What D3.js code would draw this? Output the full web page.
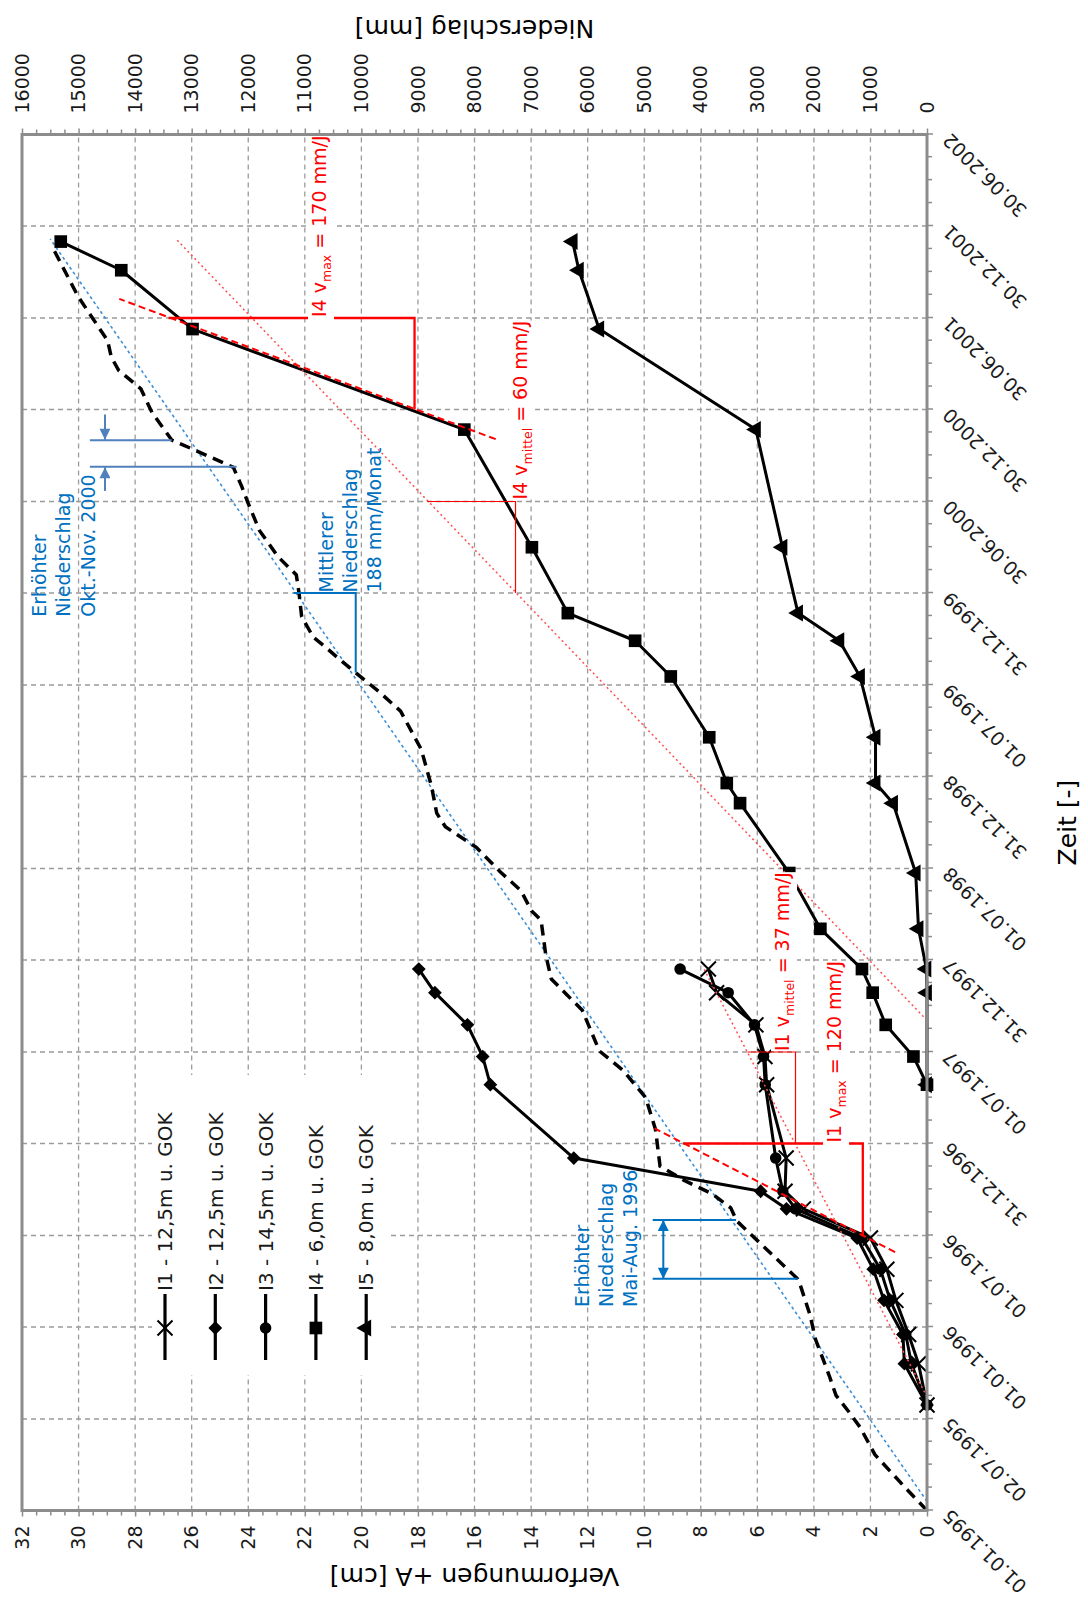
<!DOCTYPE html>
<html>
<head>
<meta charset="utf-8">
<script src="https://cdn.jsdelivr.net/npm/d3@7"></script>
<style>
  body { margin: 0; background: #fff; }
  svg text { font-family: "DejaVu Sans", Verdana, sans-serif; }
</style>
</head>
<body>
<svg id="chart"></svg>
<script>
const width = 1088;
const height = 1598;
const svg = d3.select("svg#chart");
svg.attr("width", width).attr("height", height);

// the chart is built in landscape and then turned by -90 degrees
const W = height;
const H = width;
const margin = { top: 22, right: 134.5, bottom: 161, left: 87.5 };

// axis ticks
const timeTickLabels = ["01.01.1995", "02.07.1995", "01.01.1996", "01.07.1996", "31.12.1996",
  "01.07.1997", "31.12.1997", "01.07.1998", "31.12.1998", "01.07.1999", "31.12.1999",
  "30.06.2000", "30.12.2000", "30.06.2001", "30.12.2001", "30.06.2002"];
const deformTicks = [0, 2, 4, 6, 8, 10, 12, 14, 16, 18, 20, 22, 24, 26, 28, 30, 32];
const rainTicks = [0, 1000, 2000, 3000, 4000, 5000, 6000, 7000, 8000, 9000, 10000,
  11000, 12000, 13000, 14000, 15000, 16000];

// inclinometer readings [date, cm]
const seriesI1 = [["1995-07-30", 0], ["1995-10-20", 0.3], ["1995-12-17", 0.65], ["1996-02-23", 1.1],
  ["1996-04-25", 1.42], ["1996-06-26", 2.0], ["1996-08-23", 4.37], ["1996-09-27", 5.02],
  ["1996-12-02", 4.98], ["1997-04-27", 5.67], ["1997-06-22", 5.73], ["1997-08-24", 6.05],
  ["1997-10-27", 7.44], ["1997-12-13", 7.73]];
const seriesI2 = [["1995-07-30", 0], ["1995-10-20", 0.8], ["1995-12-17", 0.85], ["1996-02-23", 1.52],
  ["1996-04-25", 1.9], ["1996-06-26", 2.47], ["1996-08-23", 4.97], ["1996-09-27", 5.88],
  ["1996-12-02", 12.49], ["1997-04-27", 15.44], ["1997-06-22", 15.71], ["1997-08-24", 16.25],
  ["1997-10-27", 17.4], ["1997-12-13", 17.97]];
const seriesI3 = [["1995-07-30", 0], ["1995-10-20", 0.55], ["1995-12-17", 0.75], ["1996-02-23", 1.3],
  ["1996-04-25", 1.65], ["1996-06-26", 2.3], ["1996-08-23", 4.65], ["1996-09-27", 5.1],
  ["1996-12-02", 5.35], ["1997-04-27", 5.72], ["1997-06-22", 5.78], ["1997-08-24", 6.1],
  ["1997-10-27", 7.03], ["1997-12-13", 8.73]];
const seriesI4 = [["1997-04-27", 0], ["1997-06-22", 0.48], ["1997-08-24", 1.46], ["1997-10-27", 1.92],
  ["1997-12-13", 2.3], ["1998-03-03", 3.77], ["1998-06-22", 4.87], ["1998-11-08", 6.61],
  ["1998-12-18", 7.08], ["1999-03-19", 7.7], ["1999-07-18", 9.06], ["1999-09-27", 10.32],
  ["1999-11-21", 12.7], ["2000-03-31", 13.97], ["2000-11-20", 16.36], ["2001-06-08", 25.97],
  ["2001-10-03", 28.49], ["2001-11-29", 30.63]];
const seriesI5 = [["1997-04-27", 0], ["1997-10-27", 0], ["1997-12-13", 0.02], ["1998-03-03", 0.3],
  ["1998-06-22", 0.4], ["1998-11-08", 1.2], ["1998-12-18", 1.82], ["1999-03-19", 1.82],
  ["1999-07-18", 2.37], ["1999-09-27", 3.1], ["1999-11-21", 4.56], ["2000-03-31", 5.11],
  ["2000-11-20", 6.05], ["2001-06-08", 11.59], ["2001-10-03", 12.31], ["2001-11-29", 12.53]];
const seriesNames = ["I1 - 12,5m u. GOK", "I2 - 12,5m u. GOK", "I3 - 14,5m u. GOK",
  "I4 - 6,0m u. GOK", "I5 - 8,0m u. GOK"];
const seriesMarkers = ["x", "diamond", "circle", "square", "triangle"];

// cumulative precipitation [date, mm]
const rainData = [["1995-01-01", 0], ["1995-02-15", 380], ["1995-04-22", 920], ["1995-06-16", 1185],
  ["1995-07-19", 1400], ["1995-08-18", 1609], ["1995-09-27", 1731], ["1995-12-08", 1973],
  ["1996-01-24", 2065], ["1996-03-26", 2245], ["1996-04-06", 2290], ["1996-07-30", 3364],
  ["1996-08-25", 3470], ["1996-09-22", 3800], ["1996-10-19", 4300], ["1996-11-16", 4720],
  ["1997-01-28", 4800], ["1997-04-01", 4973], ["1997-05-25", 5368], ["1997-07-03", 5792],
  ["1997-09-22", 6094], ["1997-10-23", 6368], ["1997-11-23", 6641], ["1998-01-10", 6740],
  ["1998-03-20", 6823], ["1998-04-08", 6994], ["1998-05-18", 7178], ["1998-06-24", 7542],
  ["1998-08-12", 7968], ["1998-09-22", 8515], ["1998-10-19", 8668], ["1998-12-11", 8759],
  ["1999-02-23", 8941], ["1999-05-10", 9307], ["1999-06-16", 9671], ["1999-08-20", 10378],
  ["1999-09-14", 10631], ["1999-10-04", 10850], ["1999-11-14", 11056], ["1999-12-29", 11100],
  ["2000-02-05", 11150], ["2000-03-13", 11480], ["2000-05-03", 11800], ["2000-06-26", 12000],
  ["2000-07-30", 12116], ["2000-09-06", 12264], ["2000-10-12", 12980], ["2000-10-30", 13350],
  ["2000-12-24", 13702], ["2001-02-09", 13898], ["2001-03-18", 14291], ["2001-04-13", 14421],
  ["2001-05-16", 14487], ["2001-08-12", 15009], ["2001-11-19", 15467]];
const rainMean = [["1995-01-19", 0], ["2001-12-04", 15500]];

// red speed constructions [date, cm]
const i1MaxTangent = [["1996-05-29", 1.13], ["1997-01-30", 9.63]];
const i1MaxTriangle = [["1996-07-01", 2.27], ["1996-12-31", 2.27], ["1996-12-31", 8.62]];
const i1MeanLine = [["1995-08-15", 0], ["1997-12-18", 7.93]];
const i1MeanTriangle = [["1996-12-31", 4.65], ["1997-07-01", 4.65], ["1997-07-01", 6.35]];
const i4MaxTangent = [["2000-11-01", 15.25], ["2001-08-07", 28.56]];
const i4MaxTriangle = [["2000-12-30", 18.12], ["2001-06-30", 18.12], ["2001-06-30", 26.82]];
const i4MeanLine = [["1997-09-02", 0], ["2001-12-04", 26.55]];
const i4MeanTriangle = [["1999-12-31", 14.55], ["2000-06-30", 14.55], ["2000-06-30", 17.67]];

// blue precipitation constructions [date, mm]
const rainMeanTriangle = [["1999-12-31", 11200], ["1999-12-31", 10100], ["1999-07-26", 10100]];
const rain1996Lines = [[["1996-08-01", 4850], ["1996-08-01", 3375]], [["1996-04-06", 4850], ["1996-04-06", 2284]]];
const rain1996Arrow = [["1996-04-06", 4662], ["1996-08-01", 4662]];
const rain2000Lines = [[["2000-10-30", 14800], ["2000-10-30", 13354]], [["2000-09-07", 14800], ["2000-09-07", 12205]]];
const rain2000Arrows = [[["2000-12-20", 14533], ["2000-10-31", 14533]], [["2000-07-21", 14533], ["2000-09-06", 14533]]];

// texts and anchor points
const speedLabels = [
  { name: "I1", sub: "max", rest: " = 120 mm/J", at: ["1996-12-31", 3.04], pad: 4 },
  { name: "I1", sub: "mittel", rest: " = 37 mm/J", at: ["1997-07-01", 4.88], pad: 0 },
  { name: "I4", sub: "max", rest: " = 170 mm/J", at: ["2001-06-30", 21.25], pad: 4 },
  { name: "I4", sub: "mittel", rest: " = 60 mm/J", at: ["2000-07-02", 14.14], pad: 0 }
];
const rainLabels = [
  { lines: ["Mittlerer", "Niederschlag", "188 mm/Monat"], at: ["2000-01-01", 10500] },
  { lines: ["Erhöhter", "Niederschlag", "Okt.-Nov. 2000"], at: ["1999-11-14", 15570] },
  { lines: ["Erhöhter", "Niederschlag", "Mai-Aug. 1996"], at: ["1996-02-10", 5976] }
];

const parseDate = d3.timeParse("%Y-%m-%d");
const parseTick = d3.timeParse("%d.%m.%Y");
const timeTicks = timeTickLabels.map(parseTick);

svg.append("rect").attr("width", width).attr("height", height).attr("fill", "white");

const defs = svg.append("defs");
function arrowDef(id, color) {
  defs.append("marker")
    .attr("id", id)
    .attr("viewBox", "0 0 10 10")
    .attr("refX", 10).attr("refY", 5)
    .attr("markerUnits", "userSpaceOnUse")
    .attr("markerWidth", 12).attr("markerHeight", 11)
    .attr("orient", "auto-start-reverse")
    .append("path").attr("d", "M0,0 L10,5 L0,10 z").attr("fill", color);
}
arrowDef("arrowBlue", "#0070c0");
arrowDef("arrowSteel", "#4f81bd");

const g = svg.append("g").attr("transform", "translate(0," + height + ") rotate(-90)");

const x = d3.scaleTime()
  .domain([timeTicks[0], timeTicks[timeTicks.length - 1]])
  .range([margin.left, W - margin.right]);
const y = d3.scaleLinear().domain([0, 32]).range([H - margin.bottom, margin.top]);
const yRain = d3.scaleLinear().domain([0, 16000]).range([H - margin.bottom, margin.top]);

// gridlines
let grid = g.append("g").attr("id", "grid")
  .attr("stroke", "#9b9b9b").attr("stroke-width", 1.3).attr("stroke-dasharray", "5,4");
grid.selectAll("line.gt").data(timeTicks.slice(1, -1)).join("line").attr("class", "gt")
  .attr("x1", d => x(d)).attr("x2", d => x(d))
  .attr("y1", margin.top).attr("y2", H - margin.bottom);
grid.selectAll("line.gv").data(deformTicks.slice(1, -1)).join("line").attr("class", "gv")
  .attr("x1", margin.left).attr("x2", W - margin.right)
  .attr("y1", d => y(d)).attr("y2", d => y(d));

// axes
const dayMs = 864e5;
const minorTime = d3.range(1, 60).filter(i => i % 4 != 0)
  .map(i => new Date(+timeTicks[0] + i * 182.5 / 4 * dayMs));
const minorDeform = d3.range(0, 32.01, 0.5).filter(v => v % 2 != 0);
const minorRain = d3.range(0, 16001, 250).filter(v => v % 1000 != 0);

function styleAxis(sel) {
  sel.attr("color", "#8c8c8c").attr("font-size", 19).attr("font-family", null);
  sel.select(".domain").remove();
  sel.selectAll("line").attr("stroke-width", 1.5);
  sel.selectAll("text").attr("fill", "#1a1a1a");
}

let xAxisG = g.append("g").attr("transform", "translate(0," + (H - margin.bottom) + ")")
  .call(d3.axisBottom(x).tickValues(timeTicks).tickSize(6).tickFormat((d, i) => timeTickLabels[i]));
styleAxis(xAxisG);
xAxisG.selectAll("text")
  .attr("x", 0).attr("y", 0).attr("dy", 0)
  .attr("text-anchor", "end")
  .attr("transform", "translate(2,24) rotate(-45)");
styleAxis(g.append("g").attr("transform", "translate(0," + (H - margin.bottom) + ")")
  .call(d3.axisBottom(x).tickValues(minorTime).tickSize(5).tickFormat("")));

styleAxis(g.append("g").attr("transform", "translate(" + margin.left + ",0)")
  .call(d3.axisLeft(y).tickValues(deformTicks).tickSize(6).tickPadding(9)));
styleAxis(g.append("g").attr("transform", "translate(" + margin.left + ",0)")
  .call(d3.axisLeft(y).tickValues(minorDeform).tickSize(5).tickFormat("")));

styleAxis(g.append("g").attr("transform", "translate(" + (W - margin.right) + ",0)")
  .call(d3.axisRight(yRain).tickValues(rainTicks).tickSize(6).tickPadding(15).tickFormat(d3.format("d"))));
styleAxis(g.append("g").attr("transform", "translate(" + (W - margin.right) + ",0)")
  .call(d3.axisRight(yRain).tickValues(minorRain).tickSize(5).tickFormat("")));

// axis titles
let yMid = (y.range()[0] + y.range()[1]) / 2;
let xMid = (x.range()[0] + x.range()[1]) / 2;
g.append("text").attr("class", "axis-title").text("Verformungen +A [cm]")
  .attr("transform", "translate(30," + yMid + ") rotate(-90)")
  .attr("text-anchor", "middle").attr("font-size", 25);
g.append("text").attr("class", "axis-title").text("Niederschlag [mm]")
  .attr("transform", "translate(" + (W - 20) + "," + yMid + ") rotate(-90)")
  .attr("text-anchor", "middle").attr("font-size", 25);
g.append("text").attr("class", "axis-title").text("Zeit [-]")
  .attr("x", xMid).attr("y", 1076)
  .attr("text-anchor", "middle").attr("font-size", 25);

// legend box hides the grid behind it
let legend = g.append("g").attr("id", "legend");
legend.append("rect").attr("x", 223).attr("y", 152).attr("width", 300).attr("height", 236).attr("fill", "white");

const px = d => x(parseDate(d[0]));
const lineCm = d3.line().x(px).y(d => y(d[1]));
const lineMm = d3.line().x(px).y(d => yRain(d[1]));

// precipitation
g.append("path").datum(rainMean).attr("d", lineMm)
  .attr("fill", "none").attr("stroke", "#3d8fd6").attr("stroke-width", 1.6).attr("stroke-dasharray", "3,3");
g.append("path").datum(rainData).attr("d", lineMm)
  .attr("fill", "none").attr("stroke", "#000").attr("stroke-width", 3.5).attr("stroke-dasharray", "11,7");

function drawMarker(sel, type, cx, cy) {
  if (type == "x") {
    let s = 7.5;
    sel.append("path")
      .attr("d", "M" + (-s) + "," + (-s) + "L" + s + "," + s + "M" + (-s) + "," + s + "L" + s + "," + (-s))
      .attr("transform", "translate(" + cx + "," + cy + ")")
      .attr("stroke", "#000").attr("stroke-width", 2).attr("fill", "none");
    return;
  }
  let sym = d3.symbol();
  let rot = 0;
  if (type == "square") sym.type(d3.symbolSquare).size(160);
  if (type == "diamond") { sym.type(d3.symbolSquare).size(95); rot = 45; }
  if (type == "circle") sym.type(d3.symbolCircle).size(105);
  if (type == "triangle") sym.type(d3.symbolTriangle).size(125);
  sel.append("path").attr("d", sym())
    .attr("transform", "translate(" + cx + "," + cy + ") rotate(" + rot + ")")
    .attr("fill", "#000");
}

// inclinometer series
const allSeries = [seriesI1, seriesI2, seriesI3, seriesI4, seriesI5];
allSeries.forEach((data, i) => {
  let sg = g.append("g").attr("class", "series");
  sg.append("path").datum(data).attr("d", lineCm)
    .attr("fill", "none").attr("stroke", "#000").attr("stroke-width", 3).attr("stroke-linejoin", "round");
  data.forEach(d => drawMarker(sg, seriesMarkers[i], px(d), y(d[1])));
});

// legend entries
seriesNames.forEach((name, i) => {
  let ly = 165 + i * 50.3;
  legend.append("line").attr("x1", 238).attr("x2", 304).attr("y1", ly).attr("y2", ly)
    .attr("stroke", "#000").attr("stroke-width", 3.2);
  drawMarker(legend, seriesMarkers[i], 270, ly);
  legend.append("text").attr("x", 307).attr("y", ly).attr("dy", "0.36em")
    .attr("font-size", 20).attr("fill", "#1a1a1a").text(name);
});

// red constructions
let ann = g.append("g").attr("id", "annotation");
function redPath(data, w, dash, color) {
  ann.append("path").datum(data).attr("d", lineCm)
    .attr("fill", "none").attr("stroke", color || "#ff0000").attr("stroke-width", w)
    .attr("stroke-dasharray", dash);
}
redPath(i1MeanLine, 1.5, "2,3", "#ff5050");
redPath(i4MeanLine, 1.5, "2,3", "#ff5050");
redPath(i1MeanTriangle, 1.2, null);
redPath(i4MeanTriangle, 1.2, null);
redPath(i1MaxTriangle, 2.3, null);
redPath(i4MaxTriangle, 2.3, null);
redPath(i1MaxTangent, 2, "7,4");
redPath(i4MaxTangent, 2, "7,4");

speedLabels.forEach(l => {
  let t = ann.append("text")
    .attr("x", px(l.at) + 1).attr("y", y(l.at[1]))
    .attr("fill", "#ff0000").attr("font-size", 19);
  t.append("tspan").text(l.name + " v");
  t.append("tspan").attr("font-size", 12.5).attr("dy", 5).text(l.sub);
  t.append("tspan").attr("dy", -5).text(l.rest);
  let b = t.node().getBBox();
  ann.insert("rect", () => t.node())
    .attr("x", b.x - l.pad).attr("y", b.y)
    .attr("width", b.width + l.pad).attr("height", b.height)
    .attr("fill", "white");
});

// blue constructions
let blue = g.append("g").attr("id", "rain-notes");
blue.append("path").datum(rainMeanTriangle).attr("d", lineMm)
  .attr("fill", "none").attr("stroke", "#0070c0").attr("stroke-width", 2);
rain1996Lines.forEach(l => blue.append("path").datum(l).attr("d", lineMm)
  .attr("stroke", "#0070c0").attr("stroke-width", 2));
blue.append("path").datum(rain1996Arrow).attr("d", lineMm)
  .attr("stroke", "#0070c0").attr("stroke-width", 2)
  .attr("marker-start", "url(#arrowBlue)").attr("marker-end", "url(#arrowBlue)");
rain2000Lines.forEach(l => blue.append("path").datum(l).attr("d", lineMm)
  .attr("stroke", "#4f81bd").attr("stroke-width", 2));
rain2000Arrows.forEach(l => blue.append("path").datum(l).attr("d", lineMm)
  .attr("stroke", "#4f81bd").attr("stroke-width", 2).attr("marker-end", "url(#arrowSteel)"));

rainLabels.forEach(l => {
  let t = blue.append("text")
    .attr("x", px(l.at)).attr("y", yRain(l.at[1]))
    .attr("fill", "#0070c0").attr("font-size", 19);
  l.lines.forEach((s, i) => {
    t.append("tspan").attr("x", px(l.at)).attr("dy", i == 0 ? 0 : "1.27em").text(s);
  });
});

// plot frame
g.append("rect")
  .attr("x", margin.left).attr("y", margin.top)
  .attr("width", W - margin.left - margin.right)
  .attr("height", H - margin.top - margin.bottom)
  .attr("fill", "none").attr("stroke", "#8c8c8c").attr("stroke-width", 3);
</script>
</body>
</html>
